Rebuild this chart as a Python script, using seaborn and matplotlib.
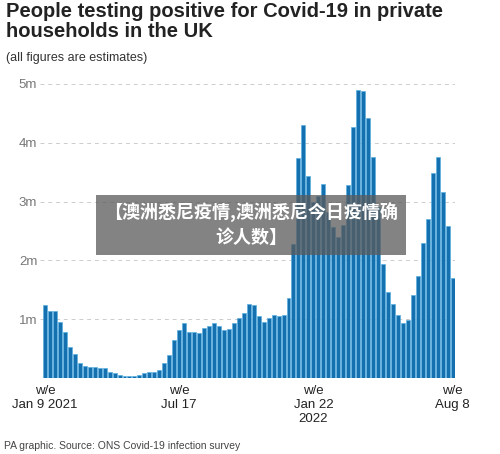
import matplotlib
matplotlib.use("Agg")
import matplotlib.pyplot as plt
import seaborn as sns
import pandas as pd

values = [1.24,1.14,1.14,0.95,0.78,0.53,0.41,0.26,0.21,0.19,0.19,0.18,0.17,0.11,0.09,0.05,0.04,0.03,0.03,0.05,
          0.09,0.10,0.11,0.14,0.25,0.39,0.64,0.82,0.94,0.79,0.79,0.76,0.85,0.88,0.94,0.88,0.82,0.83,0.93,1.02,
          1.11,1.26,1.25,1.06,0.95,1.02,1.07,1.05,1.08,1.36,2.28,3.74,4.30,3.43,3.00,3.09,3.29,2.83,2.56,2.40,
          2.60,3.28,4.26,4.90,4.88,4.41,3.76,2.90,1.94,1.47,1.26,1.07,0.94,0.98,1.41,1.73,2.29,2.71,3.49,3.75,
          3.17,2.58,1.70]
tick_pos = [0, 27, 54, 82]
tick_labels = ["w/e\nJan 9 2021", "w/e\nJul 17", "w/e\nJan 22\n2022", "w/e\nAug 8"]
yticks = [1, 2, 3, 4, 5]
ylabels = ["1m", "2m", "3m", "4m", "5m"]

sns.set_style("white")
plt.rcParams['font.family'] = ['Liberation Sans', 'DejaVu Sans']
fig = plt.figure(figsize=(5, 4.54), dpi=100)
ax = fig.add_axes([0.08, 0.167, 0.83, 0.655])
df = pd.DataFrame({"i": range(len(values)), "v": values})
sns.barplot(data=df, x="i", y="v", color="#1570b0", width=0.8, edgecolor="#5ab0e0",
            linewidth=0.5, saturation=1, ax=ax, native_scale=True)
ax.set_xlim(-1, len(values) - 0.5)
ax.set_ylim(0, 5.05)
ax.set_yticks(yticks)
ax.set_yticklabels(ylabels, color="#777777", fontsize=9.5)
ax.yaxis.grid(True, linestyle=(0, (4, 4)), color="#cccccc", linewidth=0.7)
ax.set_axisbelow(True)
ax.set_xticks(tick_pos)
ax.set_xticklabels(tick_labels, fontsize=9.5, color="#222222")
ax.tick_params(axis="x", length=3, color="#555555", pad=2)
ax.tick_params(axis="y", length=0, pad=2)
for s in ax.spines.values():
    s.set_visible(False)
ax.set_xlabel(""); ax.set_ylabel("")

fig.text(0.012, 0.995, "People testing positive for Covid-19 in private\nhouseholds in the UK",
         fontsize=14.5, fontweight="bold", va="top", color="#222222", linespacing=1.05)
fig.text(0.012, 0.885, "(all figures are estimates)", fontsize=9, va="top", color="#333333")
fig.text(0.008, 0.01, "PA graphic. Source: ONS Covid-19 infection survey", fontsize=7.5, color="#444444")
fig.text(0.502, 0.505, "【澳洲悉尼疫情,澳洲悉尼今日疫情确\n诊人数】", ha="center", va="center",
         fontsize=13, fontweight="bold", color="white", family=["Noto Sans CJK SC", "DejaVu Sans"],
         linespacing=1.3,
         bbox=dict(boxstyle="square,pad=0.45", facecolor="#5a5a5a", alpha=0.75, edgecolor="none"))
fig.savefig("out.png", dpi=100)
